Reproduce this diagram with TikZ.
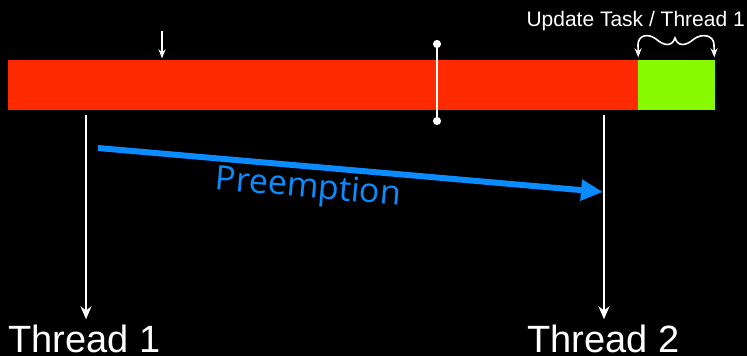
\documentclass[tikz,border=0pt]{standalone}
\usepackage{fontspec}
\setmainfont{Liberation Sans}
\newfontfamily\preemptfont{Open Sans}
\usetikzlibrary{arrows.meta,positioning}
\definecolor{barred}{RGB}{255,42,0}
\definecolor{bargreen}{RGB}{136,250,0}
\definecolor{preblue}{RGB}{10,140,255}
\begin{document}
\begin{tikzpicture}[x=1pt, y=-1pt,
    bar/.style={rectangle, inner sep=0, line width=0.6pt, minimum height=48.4pt},
    wline/.style={white, line width=2pt},
    warrow/.style={wline, -{Stealth[length=13pt, width=11pt]}},
    dotline/.style={wline, {Circle[length=8pt]}-{Circle[length=8pt]}},
    big/.style={white, inner sep=0, text depth=0pt, font=\fontsize{38}{40}\selectfont},
]
\fill[black] (0,0) rectangle (747,356);
\useasboundingbox (0,0) rectangle (747,356);

% Bar
\node[bar, fill=barred, draw=barred, minimum width=629.4pt, anchor=north west] (red) at (8.3,60.3) {};
\node[bar, fill=bargreen, draw=bargreen, minimum width=75.4pt, right=0pt of red] (green) {};

% Update task brace
\node[white, inner sep=0, font=\fontsize{21}{24}\selectfont, anchor=base east] (update) at (745,27) {Update Task / Thread 1};
\coordinate (bl) at ([yshift=3pt]green.north west);
\coordinate (br) at ([yshift=3pt]green.north east);
\draw[wline, line width=1.6pt, {Stealth[length=9pt, width=7pt]}-{Stealth[length=9pt, width=7pt]}]
  (bl) -- (638,45) .. controls (638,35) and (648,33) .. (656,39)
  .. controls (664,46) and (672,47) .. (675,38)
  .. controls (678,47) and (686,46) .. (694,39)
  .. controls (702,33) and (714,35) .. (714,45) -- (br);

% Markers on the bar
\coordinate (mark) at (162,31);
\draw[wline, line width=1.6pt, -{Stealth[length=9pt, width=7pt]}, shorten >=2pt] (mark) -- (mark |- red.north);
\coordinate (cuttop) at (437,40);
\coordinate (cutbot) at (437,125);
\draw[dotline] (cuttop) -- (cutbot);

% Threads
\node[big, anchor=base west] (thread1) at (8,352) {Thread 1};
\node[big, anchor=base west] (thread2) at (527,352) {Thread 2};
\coordinate (t1) at (86,115);
\coordinate (t2) at (604,115);
\draw[warrow, shorten >=5pt] (t1) -- (t1 |- thread1.north);
\draw[warrow, shorten >=5pt] (t2) -- (t2 |- thread2.north);

% Preemption
\coordinate (p1) at (98,148);
\coordinate (p2) at (603,192);
\draw[preblue, line width=6pt, -{Triangle[length=22pt, width=20pt]}] (p1) -- (p2)
  node[pos=0.42, sloped, below=3pt, inner sep=0, text=preblue, font=\preemptfont\fontsize{34}{36}\selectfont] (preempt) {Preemption};
\end{tikzpicture}
\end{document}
